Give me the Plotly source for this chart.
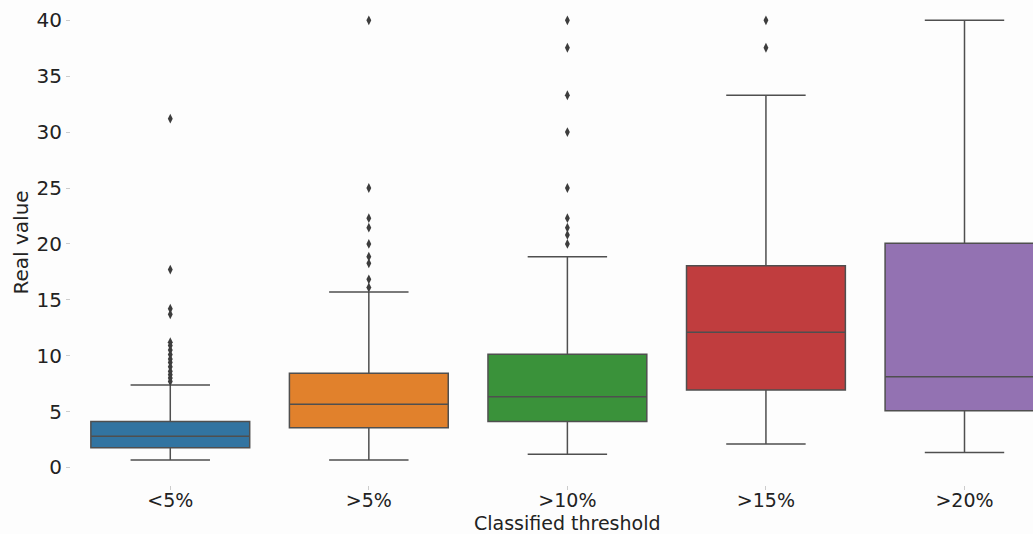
import plotly.graph_objects as go

categories = ["<5%", ">5%", ">10%", ">15%", ">20%"]
q1 = [1.77, 3.56, 4.10, 6.93, 5.08]
median = [2.80, 5.65, 6.33, 12.09, 8.12]
q3 = [4.10, 8.42, 10.12, 18.05, 20.05]
lower_whisker = [0.67, 0.67, 1.18, 2.10, 1.33]
upper_whisker = [7.38, 15.70, 18.86, 33.30, 40.0]
outliers = [
    [31.2, 17.7, 14.2, 13.7, 11.2, 10.9, 10.5, 10.1, 9.7, 9.4, 9.0, 8.6, 8.3, 8.0, 7.7],
    [40.0, 25.0, 22.3, 21.45, 20.0, 18.86, 18.26, 16.83, 16.1],
    [40.0, 37.55, 33.3, 30.0, 25.0, 22.3, 21.45, 20.8, 20.0],
    [40.0, 37.55],
    [],
]
colors = ["#3274a1", "#e1812c", "#3a923a", "#c03d3e", "#9372b2"]
y_ticks = [0, 5, 10, 15, 20, 25, 30, 35, 40]

fig = go.Figure()
for i, cat in enumerate(categories):
    fig.add_trace(go.Box(
        x=[cat], q1=[q1[i]], median=[median[i]], q3=[q3[i]],
        lowerfence=[lower_whisker[i]], upperfence=[upper_whisker[i]],
        fillcolor=colors[i], line=dict(color="#4f4f4f", width=1.5),
        width=0.8, whiskerwidth=0.5, boxpoints=False, showlegend=False,
    ))
    if outliers[i]:
        fig.add_trace(go.Scatter(
            x=[cat] * len(outliers[i]), y=outliers[i], mode="markers",
            marker=dict(symbol="diamond-tall", size=7, color="#3d3d3d"),
            showlegend=False,
        ))

fig.update_layout(
    width=1033, height=534,
    margin=dict(l=71, r=0, t=0, b=49),
    paper_bgcolor="#fdfdfd", plot_bgcolor="#fdfdfd",
    font=dict(family="DejaVu Sans", size=20, color="#222222"),
    boxmode="overlay",
    xaxis=dict(type="category", categoryorder="array", categoryarray=categories,
               range=[-0.5, 4.345], showgrid=False, zeroline=False, showline=False,
               ticks="outside", ticklen=4, tickcolor="#cccccc", tickfont=dict(size=19),
               ticklabelstandoff=-6),
    yaxis=dict(range=[-1.57, 41.82], tickvals=y_ticks, showgrid=False, zeroline=False,
               showline=False, ticks="outside", ticklen=4, tickcolor="#cccccc",
               tickfont=dict(size=20)),
    annotations=[
        dict(text="Classified threshold", x=2, xref="x", y=-0.078, yref="paper",
             showarrow=False, xanchor="center", yanchor="middle", font=dict(size=19)),
        dict(text="Real value", x=-0.052, xref="paper", y=0.50, yref="paper",
             showarrow=False, textangle=-90, xanchor="center", yanchor="middle",
             font=dict(size=20)),
    ],
)

fig.write_html("out.html", config={"displayModeBar": False},
               post_script="document.body.style.margin='0';")
